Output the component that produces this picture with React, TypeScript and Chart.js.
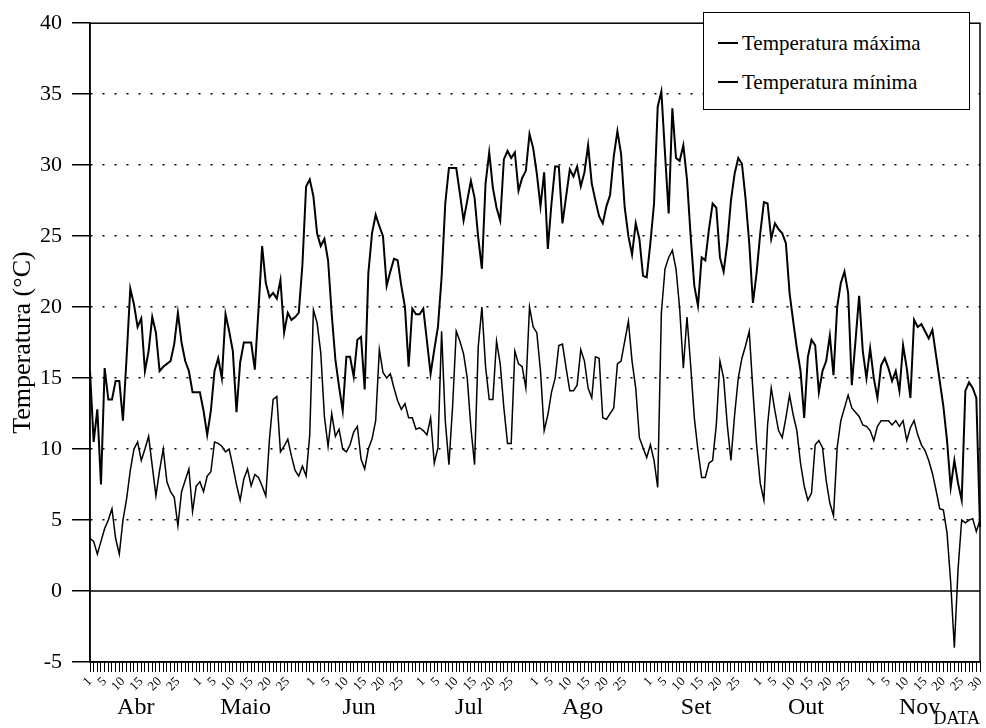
import React, { useEffect, useRef } from 'react';
import { Chart, registerables } from 'chart.js';

Chart.register(...registerables);

const SERIF = '"Liberation Serif", "Times New Roman", serif';

const monthNames = ['Abr', 'Maio', 'Jun', 'Jul', 'Ago', 'Set', 'Out', 'Nov'];
const monthDays = [30, 31, 30, 31, 31, 30, 31, 30];
const labeledDays = [1, 5, 10, 15, 20, 25];
const yTicks = [-5, 0, 5, 10, 15, 20, 25, 30, 35, 40];

const tMax = [
  15.5, 10.5, 12.8, 7.5, 15.7, 13.5, 13.5, 14.8, 14.8, 12,
  16.5, 21.3, 20.2, 18.6, 19.2, 15.5, 16.9, 19.3, 18.2, 15.5,
  15.8, 16, 16.2, 17.4, 19.6, 17.5, 16.2, 15.5, 14, 14,
  14, 12.7, 11, 12.7, 15.5, 16.4, 15, 19.5, 18.3, 16.9,
  12.6, 16.1, 17.5, 17.5, 17.5, 15.6, 19.8, 24.3, 21.7, 20.7,
  21, 20.6, 21.9, 18.2, 19.6, 19.1, 19.3, 19.6, 23, 28.5,
  29, 27.8, 25.2, 24.3, 24.8, 23.3, 19.5, 16.3, 14.4, 12.7,
  16.5, 16.5, 15.1, 17.7, 17.9, 14.2, 22.4, 25.2, 26.5, 25.7,
  25, 21.5, 22.5, 23.4, 23.3, 21.5, 20, 15.8, 19.9, 19.5,
  19.5, 19.9, 17.6, 15.3, 17, 18.6, 22.1, 27.3, 29.8, 29.8,
  29.8, 28, 26.1, 27.5, 28.9, 27.7, 24.9, 22.7, 28.7, 30.9,
  28.4, 27, 26.1, 30.4, 31, 30.5, 30.9, 28.2, 29.1, 29.6,
  32.2, 31.2, 29.4, 27.1, 29.5, 24.1, 27.3, 29.9, 29.9, 25.9,
  27.8, 29.7, 29.2, 29.9, 28.5, 29.5, 31.4, 28.7, 27.5, 26.4,
  25.9, 27.1, 27.9, 30.6, 32.4, 30.8, 27, 25, 23.7, 25.9,
  24.8, 22.2, 22.1, 24.5, 27.3, 34.1, 35.2, 30.8, 26.6, 34,
  30.5, 30.3, 31.4, 29, 25, 21.5, 20.1, 23.5, 23.3, 25.5,
  27.3, 27, 23.5, 22.5, 24.5, 27.5, 29.4, 30.5, 30.1, 27.6,
  24.5, 20.3, 22.4, 25.2, 27.4, 27.3, 24.8, 25.9, 25.5, 25.2,
  24.5, 21, 19, 17.1, 15.5, 12.2, 16.5, 17.7, 17.3, 14,
  15.5, 16.2, 18, 15.2, 20, 21.7, 22.5, 21, 14.5, 17.6,
  20.8, 16.9, 15, 17.1, 15, 13.6, 15.9, 16.4, 15.7, 14.8,
  15.5, 14.1, 17.3, 15.7, 13.6, 19.1, 18.6, 18.8, 18.3, 17.8,
  18.4, 16.6, 14.8, 13, 10.6, 7.3, 9.2, 7.6, 6.4, 14.1,
  14.7, 14.3, 13.6, 4.5,
];

const tMin = [
  3.7, 3.5, 2.6, 3.5, 4.4, 5, 5.8, 3.7, 2.6, 5,
  6.5, 8.5, 10, 10.5, 9.2, 10, 10.9, 8.8, 6.7, 8.5,
  10, 7.7, 7, 6.6, 4.6, 7, 7.8, 8.6, 5.6, 7.4,
  7.7, 7, 8.1, 8.4, 10.5, 10.4, 10.2, 9.8, 10, 8.8,
  7.5, 6.4, 7.9, 8.6, 7.4, 8.2, 8, 7.4, 6.7, 10.7,
  13.5, 13.7, 9.8, 10.2, 10.7, 9.5, 8.5, 8.1, 8.8, 8.1,
  11, 19.8, 18.9, 16.8, 12.3, 10.2, 12.5, 10.9, 11.4, 10,
  9.8, 10.3, 11.2, 11.6, 9.3, 8.6, 10, 10.7, 12, 17,
  15.4, 15, 15.3, 14.3, 13.4, 12.8, 13.2, 12.2, 12.2, 11.4,
  11.5, 11.3, 11, 12.2, 9, 10.1, 18.3, 12, 8.9, 13,
  18.3, 17.6, 16.7, 15, 11.5, 8.9, 17.2, 20, 15.8, 13.5,
  13.5, 17.6, 16, 12.9, 10.4, 10.4, 16.9, 16, 15.8, 14.3,
  20, 18.6, 18.2, 15.5, 11.3, 12.4, 14, 15, 17.3, 17.4,
  15.7, 14.1, 14.1, 14.5, 17, 16.2, 14.3, 13.6, 16.5, 16.4,
  12.2, 12.1, 12.5, 12.9, 16, 16.2, 17.6, 19, 16.2, 14.3,
  10.8, 10.1, 9.4, 10.3, 9.2, 7.3, 19.6, 22.7, 23.5, 24,
  22.7, 19.9, 15.7, 19.3, 15.9, 12.2, 9.9, 8, 8, 9,
  9.2, 11.7, 16.2, 15, 11.7, 9.2, 12.4, 15, 16.4, 17.3,
  18.3, 14.1, 10.3, 7.6, 6.4, 11.7, 14.3, 12.7, 11.3, 10.8,
  12.2, 13.8, 12.4, 11.3, 9, 7.4, 6.4, 6.9, 10.3, 10.6,
  10.1, 7.8, 6.2, 5.3, 10.1, 12, 12.9, 13.8, 12.9, 12.6,
  12.3, 11.7, 11.6, 11.3, 10.6, 11.6, 12, 12, 12, 11.7,
  12, 11.6, 12, 10.6, 11.5, 12, 11, 10.3, 9.9, 9.2,
  8.3, 7.1, 5.8, 5.7, 4.1, 0.6, -4, 1.5, 5, 4.8,
  5, 5.1, 4.2, 5,
];

const dayOfMonth: number[] = [];
monthDays.forEach((n) => {
  for (let d = 1; d <= n; d++) dayOfMonth.push(d);
});
const dayLabels = dayOfMonth.map((d, i) =>
  labeledDays.includes(d) || i === dayOfMonth.length - 1 ? String(d) : ''
);

const framePlugin = {
  id: 'frameAndMonths',
  beforeDatasetsDraw(chart: any) {
    const { ctx, chartArea: a, scales } = chart;
    ctx.save();
    ctx.strokeStyle = '#000';
    ctx.lineWidth = 1.5;
    ctx.strokeRect(a.left, a.top, a.right - a.left, a.bottom - a.top);
    const y0 = scales.y.getPixelForValue(0);
    ctx.beginPath();
    ctx.moveTo(a.left, y0);
    ctx.lineTo(a.right, y0);
    ctx.stroke();
    ctx.restore();
  },
  afterDraw(chart: any) {
    const { ctx, scales } = chart;
    ctx.save();
    ctx.fillStyle = '#000';
    ctx.font = `24px ${SERIF}`;
    ctx.textAlign = 'center';
    ctx.textBaseline = 'alphabetic';
    let start = 0;
    monthDays.forEach((n, m) => {
      const x = scales.x.getPixelForValue(start + 12.5);
      ctx.fillText(monthNames[m], x, 714);
      start += n;
    });
    ctx.restore();
  },
};

export default function App() {
  const ref = useRef<HTMLCanvasElement>(null);

  useEffect(() => {
    if (!ref.current) return;
    const chart = new Chart(ref.current, {
      type: 'line',
      data: {
        labels: dayLabels,
        datasets: [
          {
            label: 'Temperatura máxima',
            data: tMax,
            borderColor: '#000',
            borderWidth: 2,
            pointRadius: 0,
            tension: 0,
          },
          {
            label: 'Temperatura mínima',
            data: tMin,
            borderColor: '#000',
            borderWidth: 1.5,
            pointRadius: 0,
            tension: 0,
          },
        ],
      },
      options: {
        animation: false,
        responsive: false,
        devicePixelRatio: 1,
        layout: { padding: { top: 22, right: 6, left: 0, bottom: 0 } },
        plugins: { legend: { display: false }, tooltip: { enabled: false } },
        scales: {
          x: {
            type: 'category',
            grid: {
              drawOnChartArea: false,
              drawTicks: true,
              tickLength: 10,
              tickColor: '#000',
              tickWidth: 1,
            },
            border: { display: true, color: '#000', width: 1.5 },
            ticks: {
              autoSkip: false,
              maxRotation: 45,
              minRotation: 45,
              padding: 2,
              color: '#000',
              font: { family: SERIF, size: 13 },
            },
            title: {
              display: true,
              text: 'DATA',
              align: 'end',
              color: '#000',
              font: { family: SERIF, size: 18, lineHeight: 1 },
              padding: { top: 0, bottom: 0 },
            },
            afterFit: (s: any) => {
              s.height = 66;
              s.paddingLeft = 0;
              s.paddingRight = 0;
            },
          },
          y: {
            min: -5,
            max: 40,
            afterBuildTicks: (s: any) => {
              s.ticks = yTicks.map((v) => ({ value: v }));
            },
            grid: {
              color: (c: any) =>
                c.tick && c.tick.value > 0 && c.tick.value < 40 ? '#000' : 'rgba(0,0,0,0)',
              lineWidth: 1.5,
              drawTicks: true,
              tickLength: 18,
              tickColor: '#000',
              tickWidth: 1.5,
            },
            border: { display: true, color: '#000', width: 1.5, dash: [2, 10] },
            ticks: {
              color: '#000',
              padding: 10,
              font: { family: SERIF, size: 22 },
            },
            title: {
              display: true,
              text: 'Temperatura (°C)',
              color: '#000',
              font: { family: SERIF, size: 26 },
              padding: { top: 8, bottom: 0 },
            },
            afterFit: (s: any) => {
              s.width = 90;
            },
          },
        },
      },
      plugins: [framePlugin],
    } as any);
    return () => chart.destroy();
  }, []);

  const entry = (top: number, thick: number, text: string) => (
    <div
      style={{
        position: 'absolute',
        left: 14,
        top,
        height: 24,
        display: 'flex',
        alignItems: 'center',
        whiteSpace: 'nowrap',
      }}
    >
      <span
        style={{
          display: 'inline-block',
          width: 20,
          height: thick,
          background: '#000',
          marginRight: 4,
        }}
      />
      <span>{text}</span>
    </div>
  );

  return (
    <div
      style={{
        position: 'fixed',
        left: 0,
        top: 0,
        width: 986,
        height: 728,
        background: '#fff',
      }}
    >
      <canvas ref={ref} width={986} height={728} style={{ display: 'block' }} />
      <div
        style={{
          position: 'absolute',
          left: 703,
          top: 12,
          width: 267,
          height: 98,
          border: '1.5px solid #000',
          background: '#fff',
          boxSizing: 'border-box',
          fontFamily: SERIF,
          fontSize: 21,
          color: '#000',
        }}
      >
        {entry(18, 2, 'Temperatura máxima')}
        {entry(57, 1.5, 'Temperatura mínima')}
      </div>
    </div>
  );
}
